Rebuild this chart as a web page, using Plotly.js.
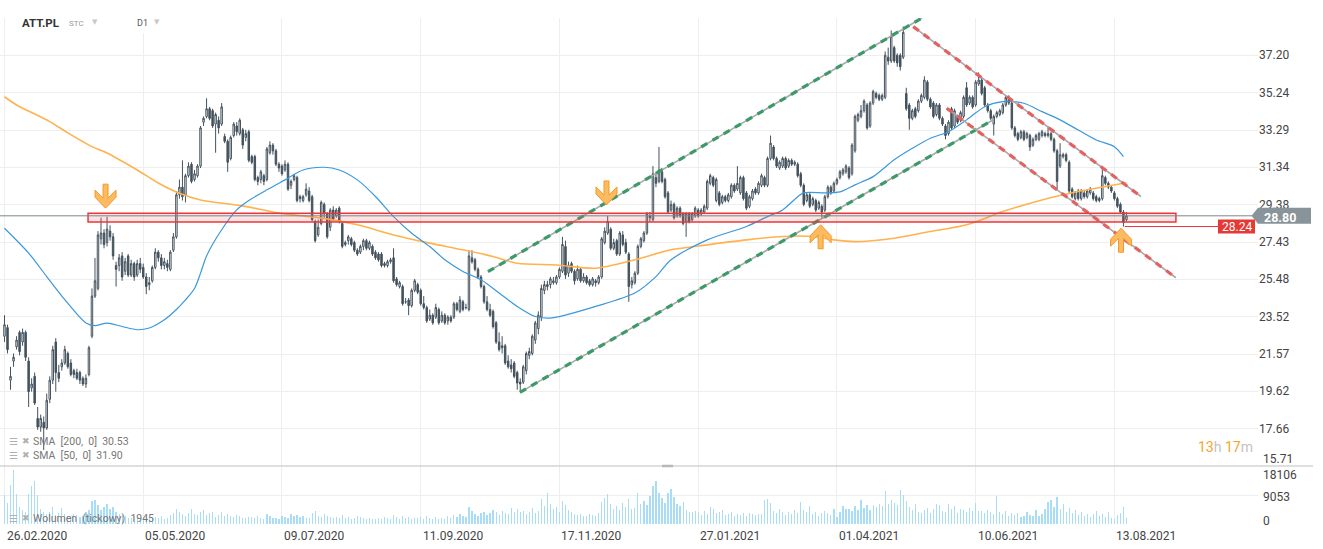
<!DOCTYPE html>
<html><head><meta charset="utf-8">
<script src="https://cdn.plot.ly/plotly-3.0.1.min.js"></script>
<style>html,body{margin:0;padding:0;background:#fff}#chart{width:1323px;height:549px}</style>
</head><body><div id="chart"></div>
<script>
// ---------------- data ----------------
const dateLabels = ["26.02.2020","05.05.2020","09.07.2020","11.09.2020","17.11.2020","27.01.2021","01.04.2021","10.06.2021","13.08.2021"];
const dateLabelIdx = [0,46,92,138,184,230,276,322,368];
const priceTicks = [15.71,17.66,19.62,21.57,23.52,25.48,27.43,29.38,31.34,33.29,35.24,37.20];
const volumeTicks = [0,9053,18106];

const open = [
22.5,22.95,20.2,21.2,21.95,22.7,22.2,22.7,21.2,19.8,
20.4,18.2,17.75,18.0,17.7,19.2,20.2,22.2,20.6,20.9,
21.1,21.6,21.1,20.7,20.6,20.6,20.3,20.0,20.5,22.5,
24.6,25.0,27.6,27.9,27.4,28.0,27.7,26.2,26.2,26.7,
25.9,26.7,25.7,26.3,25.7,26.3,26.1,25.6,25.2,25.4,
26.1,26.9,26.6,26.2,26.3,26.0,27.0,27.7,29.9,30.3,
29.9,30.9,31.5,30.7,30.9,31.4,33.7,34.0,34.4,34.3,
33.6,33.8,33.6,32.95,32.7,31.8,33.0,33.5,33.1,33.3,
32.9,33.2,31.9,31.9,30.8,30.7,30.9,30.7,32.1,32.5,
32.2,31.5,31.4,31.2,31.5,30.4,30.7,30.8,29.8,29.6,
29.9,30.1,29.8,28.5,27.8,28.4,29.4,28.9,28.2,29.1,
28.8,29.2,28.4,27.3,27.5,27.6,27.4,27.0,26.9,27.2,
27.5,27.1,27.2,26.9,26.8,26.8,26.3,26.2,26.4,26.6,
25.5,25.1,25.1,24.3,24.4,24.1,24.9,25.2,24.9,24.2,
24.0,23.4,23.6,23.5,23.9,23.3,23.6,23.3,23.5,23.5,
24.2,23.8,24.3,24.0,23.9,26.6,26.5,26.0,25.6,25.1,
24.3,23.9,23.8,23.2,22.2,22.0,22.0,21.2,21.0,21.1,
20.6,20.1,20.1,20.7,21.5,21.6,22.3,22.9,23.5,24.9,
25.2,25.2,25.3,25.3,25.6,25.9,27.2,25.8,26.3,25.9,
25.5,26.0,25.4,25.6,25.4,25.2,25.4,25.3,25.6,27.4,
27.9,28.1,27.1,27.5,26.8,27.8,27.4,26.8,25.2,25.3,
25.8,27.2,27.5,27.9,28.8,28.6,30.8,30.6,31.1,30.7,
30.0,29.1,29.4,28.8,29.2,28.9,28.5,28.9,28.6,28.8,
29.1,28.9,29.0,29.2,30.5,30.8,29.6,30.0,29.5,29.8,
29.6,29.8,30.4,30.2,30.0,30.8,30.0,29.3,29.7,30.2,
30.0,30.4,30.8,30.4,31.8,32.4,31.8,31.3,31.4,31.8,
31.4,31.7,31.5,31.5,31.0,30.4,29.6,29.9,29.4,29.6,
29.2,29.3,29.1,29.8,30.3,30.1,30.5,30.8,31.0,31.1,
31.3,31.0,32.2,33.8,34.0,34.3,34.6,33.5,34.7,35.2,
35.1,34.9,35.0,37.1,36.9,37.6,37.2,37.2,37.1,35.2,
34.6,33.9,34.4,34.3,34.8,35.0,35.8,34.9,34.7,34.1,
34.6,33.9,33.5,33.1,34.4,33.5,34.0,33.8,34.0,35.5,
34.7,35.0,34.6,35.7,35.9,35.5,34.6,34.3,33.6,34.0,
34.1,34.2,34.6,34.9,34.7,33.4,33.1,32.9,33.2,32.9,
33.0,32.5,32.8,32.8,33.0,33.1,33.0,33.1,32.8,32.2,
31.4,31.9,32.0,31.6,30.2,29.7,30.1,29.7,30.0,29.8,
30.0,30.0,29.8,29.7,29.7,30.8,30.5,30.3,30.0,29.7,
29.4,29.0,28.6];
const high = [
23.6,23.1,20.9,21.6,22.5,22.8,22.9,22.8,21.4,20.3,
20.6,18.8,18.4,18.3,19.5,20.4,22.0,22.4,21.0,21.3,
22.0,21.7,21.3,20.8,20.8,20.7,20.4,20.5,22.0,25.0,
26.6,28.0,28.7,28.1,28.75,28.3,27.9,26.4,26.8,26.9,
26.6,26.8,26.5,26.4,26.5,26.6,26.3,25.8,25.6,26.2,
27.1,27.0,26.8,26.6,26.5,27.0,27.9,30.1,30.7,31.7,
31.0,31.6,31.6,31.2,31.5,33.5,34.0,34.95,34.5,34.4,
34.2,34.0,34.7,33.1,32.8,33.0,33.7,33.7,33.9,33.4,
33.3,33.3,32.0,32.0,30.9,31.2,31.0,32.4,32.7,32.6,
32.3,31.6,31.5,31.7,31.6,30.7,31.0,30.9,29.9,29.9,
30.5,30.3,29.9,28.6,28.6,29.6,29.5,29.0,29.2,29.3,
29.2,29.3,28.5,27.5,27.8,27.7,27.5,27.1,27.3,27.6,
27.6,27.5,27.3,27.0,26.9,26.9,26.4,26.5,26.6,27.1,
25.6,25.4,25.2,24.5,24.5,25.0,25.5,25.3,25.0,24.6,
24.1,23.9,23.7,24.2,24.0,23.8,23.7,23.6,23.6,24.3,
24.3,24.6,24.4,24.2,27.0,27.0,26.6,26.1,25.7,25.2,
24.6,24.2,23.9,23.3,22.7,22.5,22.1,21.5,21.3,21.2,
20.7,20.3,21.0,21.7,21.9,22.6,23.3,23.8,25.2,25.4,
25.4,25.6,25.6,25.7,26.1,27.7,27.5,26.4,26.4,26.0,
26.2,26.1,25.8,25.7,25.5,25.6,25.5,25.7,27.7,28.2,
28.8,28.2,27.6,27.6,28.0,28.0,27.6,26.9,25.6,25.9,
27.3,27.7,28.0,29.0,29.0,31.4,31.1,32.4,31.3,30.8,
30.1,29.6,29.5,29.3,29.3,29.0,29.0,29.0,29.0,29.3,
29.2,29.2,29.4,30.7,31.0,30.9,30.8,30.1,29.9,29.9,
30.0,30.5,30.5,31.4,30.9,30.9,30.1,29.9,30.2,30.3,
30.6,31.0,30.9,31.9,33.0,32.5,31.9,31.7,31.9,31.9,
31.8,31.8,31.7,31.6,31.1,30.5,30.0,30.0,29.8,29.7,
29.6,29.4,29.9,30.4,30.4,30.6,30.8,31.2,31.3,31.5,
31.4,32.6,34.1,34.2,34.6,34.9,34.7,34.8,35.4,35.3,
35.2,35.2,37.4,37.6,38.5,37.7,37.3,37.3,38.7,35.5,
34.7,34.4,34.5,34.9,35.2,36.1,35.9,35.0,34.8,34.7,
34.7,34.0,33.6,33.8,34.5,34.4,34.1,34.3,35.1,35.8,
35.1,35.1,35.9,36.3,36.0,35.6,34.7,34.4,34.1,34.3,
34.4,34.7,35.1,35.1,34.8,33.5,33.2,33.3,33.3,33.2,
33.1,32.9,33.1,33.2,33.3,33.2,33.5,33.2,32.9,32.3,
32.6,32.1,32.1,31.7,30.3,30.1,30.2,30.2,30.1,30.2,
30.3,30.1,29.9,29.8,31.4,30.9,30.6,30.4,30.1,29.8,
29.5,29.1,29.0];
const low = [
22.2,21.6,19.7,20.9,21.8,21.5,22.0,21.2,18.8,19.6,
18.9,17.6,17.5,16.55,17.6,19.0,20.0,19.6,20.1,20.7,
21.0,20.8,20.4,20.3,20.2,20.0,19.9,19.8,20.4,22.4,
24.5,24.9,27.3,27.1,27.2,27.5,26.5,25.1,25.9,25.4,
25.7,25.6,25.6,25.4,25.6,25.8,25.5,24.7,24.9,25.3,
26.0,26.4,26.0,26.0,25.9,25.9,26.9,27.6,29.7,29.6,
29.5,30.8,30.5,30.6,30.8,31.3,33.5,33.9,33.8,33.4,
32.1,33.1,33.5,32.6,31.1,31.7,32.9,33.0,33.0,32.3,
32.7,31.6,31.5,30.6,30.4,30.5,30.4,30.6,32.0,32.0,
31.4,31.1,30.9,31.1,30.1,30.2,30.6,29.5,29.5,29.5,
29.8,29.5,28.5,27.4,27.7,28.3,28.7,27.6,28.0,28.5,
28.7,28.4,27.1,27.2,27.3,27.2,26.9,26.7,26.8,27.0,
27.0,27.0,26.7,26.5,26.4,26.1,26.1,26.1,26.3,25.3,
25.1,25.0,24.1,24.2,23.6,24.0,24.8,24.7,24.1,23.9,
23.2,23.3,23.1,23.4,23.1,23.2,23.1,23.1,23.2,23.4,
23.8,23.7,23.8,23.9,23.8,26.3,25.9,25.5,25.0,24.2,
23.8,23.5,22.9,22.1,21.7,21.6,21.0,20.8,20.6,20.3,
19.7,19.6,20.0,20.5,21.3,21.5,22.1,22.6,23.3,24.7,
24.9,25.0,25.2,25.2,25.5,25.8,25.5,25.6,25.8,25.2,
25.4,25.3,25.3,25.2,25.1,25.1,25.1,25.2,25.5,27.3,
27.8,27.0,27.0,26.7,26.7,27.2,26.8,24.3,25.0,25.2,
25.7,27.1,27.4,27.8,28.5,28.5,30.3,30.5,30.5,29.7,
28.9,29.0,28.6,28.7,28.7,28.3,27.7,28.4,28.5,28.7,
28.7,28.8,28.9,29.1,30.4,30.3,29.5,29.3,29.4,29.5,
29.5,29.7,30.0,30.1,29.9,29.6,29.1,29.2,29.6,29.9,
29.9,30.3,30.3,30.3,31.7,31.7,31.3,31.2,31.3,31.2,
31.3,31.4,31.4,30.8,30.3,29.3,29.5,29.2,29.3,29.0,
29.1,28.7,29.0,29.7,29.9,30.0,30.4,30.7,30.9,31.0,
30.7,30.9,32.1,33.7,33.9,34.2,33.3,33.4,34.6,34.9,
34.8,34.8,34.9,36.7,36.8,36.8,36.6,36.4,37.0,34.3,
33.3,33.8,33.9,34.2,34.7,34.9,34.8,34.4,33.9,34.0,
33.8,33.5,32.8,33.0,33.3,33.4,33.6,33.7,33.9,34.5,
34.6,34.4,34.5,35.6,35.1,34.5,34.2,33.8,33.0,33.9,
34.0,34.1,34.5,34.6,33.3,32.9,32.7,32.8,32.7,32.8,
32.2,32.4,32.7,32.7,32.9,32.9,32.9,32.7,32.1,30.1,
31.3,31.8,31.6,30.0,29.7,29.6,29.6,29.6,29.7,29.7,
29.9,29.6,29.5,29.5,29.6,30.4,30.2,30.0,29.6,29.2,
28.9,28.24,28.5];
const close = [
23.1,21.8,20.4,21.4,22.3,21.7,22.7,21.4,19.6,20.0,
19.0,17.75,18.2,17.7,19.15,20.2,21.8,20.6,20.3,21.1,
21.8,20.9,20.5,20.5,20.3,20.2,20.0,20.3,21.9,24.6,
25.4,27.8,27.9,27.3,28.1,27.7,26.7,26.0,26.6,25.6,
26.4,25.7,26.3,25.6,26.3,26.0,25.6,25.1,25.3,26.1,
26.9,26.6,26.2,26.4,26.1,26.9,27.7,29.9,30.3,29.8,
30.9,31.4,30.6,31.0,31.4,33.4,33.9,34.4,33.9,33.5,
34.1,33.4,34.5,32.7,31.6,32.9,33.6,33.2,33.8,32.5,
33.1,31.7,31.6,30.7,30.6,31.1,30.6,32.3,32.5,32.2,
31.5,31.3,31.0,31.5,30.2,30.6,30.9,29.6,29.7,29.8,
30.2,29.6,28.6,27.5,28.2,29.5,28.9,27.7,29.1,28.6,
29.1,28.5,27.2,27.4,27.7,27.3,27.0,26.8,27.2,27.5,
27.1,27.4,26.8,26.6,26.5,26.2,26.2,26.4,26.5,25.4,
25.2,25.3,24.2,24.3,24.1,24.9,25.4,24.8,24.2,24.0,
23.3,23.6,23.2,24.0,23.2,23.6,23.2,23.5,23.3,24.2,
23.9,24.4,23.9,24.0,26.7,26.4,26.0,25.6,25.1,24.3,
23.9,23.6,23.0,22.2,21.8,21.9,21.1,20.9,20.8,20.4,
20.05,20.0,20.9,21.6,21.7,22.5,23.2,23.6,25.0,25.2,
25.1,25.5,25.4,25.6,26.0,27.3,25.7,26.2,25.9,25.4,
26.0,25.4,25.6,25.3,25.2,25.5,25.3,25.6,27.6,28.0,
28.5,27.1,27.4,26.8,27.9,27.3,26.9,25.1,25.4,25.8,
27.2,27.6,27.9,28.9,28.7,31.0,30.5,31.2,30.6,29.8,
29.0,29.4,28.7,29.2,28.8,28.4,28.9,28.5,28.9,29.2,
28.8,29.1,29.3,30.6,30.9,30.4,30.7,29.4,29.8,29.6,
29.9,30.4,30.1,30.5,30.8,29.7,29.2,29.8,30.1,30.0,
30.5,30.9,30.4,31.8,32.6,31.8,31.4,31.6,31.8,31.3,
31.7,31.5,31.6,30.9,30.4,29.4,29.9,29.3,29.7,29.1,
29.5,29.0,29.8,30.3,30.0,30.5,30.7,31.1,31.2,31.4,
30.8,32.5,34.0,34.1,34.3,34.8,33.4,34.7,35.3,35.0,
34.9,35.1,37.2,36.9,38.2,36.9,36.8,36.6,38.4,34.4,
33.9,34.3,34.0,34.8,35.1,35.9,34.9,34.5,34.0,34.6,
33.9,33.6,33.0,33.7,33.4,34.3,33.7,34.2,35.0,34.6,
35.0,34.5,35.8,35.9,35.2,34.6,34.3,33.9,34.0,34.2,
34.3,34.6,35.0,34.7,33.4,33.0,32.8,33.2,32.8,33.1,
32.4,32.8,33.0,33.1,33.2,33.0,33.1,32.8,32.2,30.6,
32.0,32.0,31.7,30.1,29.8,30.0,29.7,30.1,29.8,30.1,
30.2,29.7,29.6,29.6,30.9,30.5,30.3,30.1,29.7,29.3,
29.0,28.45,28.8];
const volume = [
9100,6500,12300,17000,9500,5200,4300,3800,9400,12000,
13300,9100,4800,3600,3200,3900,5300,2800,3300,5000,
3100,2600,2400,3000,2700,2200,2500,3600,4400,7100,
7600,5800,4300,5200,6200,4800,5400,3600,3100,2700,
2400,2000,1900,2500,2000,1800,2200,2600,1700,1900,
2100,1800,2400,1600,2000,2800,3300,4600,3900,3200,
2600,3400,4600,3000,2800,3900,4400,2700,3300,3600,
2300,2900,3800,2600,3000,2400,2100,2800,2500,2000,
1900,2300,2200,1800,2600,1900,1700,3000,2400,1800,
2000,1700,2600,2200,1900,3100,2500,2900,2200,2400,
2000,1800,3300,4000,2600,2300,3100,2500,2100,1900,
2300,2000,2700,1800,2200,1700,1900,2400,2100,1800,
1600,2000,1700,1500,1900,1600,2100,1800,1500,2800,
2100,1700,2500,1900,2200,1600,2000,1800,2300,1700,
2600,1900,1700,2200,1500,1800,1600,2400,2000,2700,
2200,3000,2400,2100,5200,4100,3000,2600,3400,3900,
2800,3300,4400,3600,2900,4100,3400,3000,5100,3700,
4600,3800,4200,3100,3600,4900,3400,4100,7800,5500,
9700,6100,4700,5300,3900,7200,5800,4300,3600,3100,
2700,3200,2600,2400,3000,2900,2600,3400,6900,8100,
9400,6200,4800,5600,4400,6600,5200,7800,4600,5100,
9800,6400,7100,5900,8600,11800,13400,9600,8200,6700,
9700,11000,8400,6100,5600,7000,4300,3900,3600,4100,
3700,2900,4100,3200,5400,4800,3300,3800,4400,2700,
3100,3700,2600,3000,2900,3500,2500,3400,3100,2800,
3200,3000,7600,7700,6700,4000,3300,4700,3600,2900,
3700,3200,4300,3300,6900,4500,3700,5600,3100,3800,
2600,3300,4100,3500,2800,4600,2300,3700,5500,4600,
4600,4100,5600,4300,7400,4900,6000,4500,5800,5300,
6300,5500,10400,6100,7400,6600,5800,10700,8900,7300,
5400,4500,6200,3700,3500,4400,5100,3400,4800,6300,
5900,4200,3900,6100,4800,5500,3500,4700,4400,3600,
5100,4100,6600,4000,4200,3400,4300,3700,3100,8600,
3800,3200,4000,2500,3300,2700,3500,2300,2600,3700,
2700,2400,4400,2600,3100,4600,6900,7600,5400,8300,
4800,6400,3600,5000,3400,4300,2700,3600,2400,3000,
2300,3000,4100,2600,3200,2100,3900,1800,1600,2700,
3500,5200,1945];

const sma200Idx = [0,4,15,21,29,34,44,51,58,65,79,91,105,117,129,141,152,162,170,183,196,209,221,233,246,258,268,275,282,295,307,319,331,344,356,365,372];
const sma200Val = [35.03,34.6,33.73,33.14,32.42,32.09,31.2,30.52,29.98,29.63,29.32,28.94,28.68,28.33,27.8,27.37,27.02,26.67,26.32,26.23,26.06,26.5,27.02,27.28,27.54,27.72,27.72,27.54,27.45,27.63,27.98,28.33,29.02,29.63,30.07,30.33,30.53];
const sma50Idx = [0,8,14,20,27,30,34,39,44,48,53,57,60,63,65,67,72,77,81,87,93,99,106,111,117,123,129,135,141,146,152,158,164,170,176,181,184,196,209,216,221,233,246,253,258,263,265,272,277,282,288,295,301,307,313,319,325,331,338,344,350,356,362,368,371];
const sma50Val = [28.15,26.85,25.62,24.41,23.19,23.05,23.19,23.01,22.84,22.93,23.36,23.9,24.4,25.0,25.8,26.7,28.07,29.11,29.6,30.16,30.68,31.2,31.34,31.2,30.68,29.81,28.76,27.89,27.19,26.5,25.89,25.45,24.76,24.06,23.53,23.45,23.53,24.06,24.76,25.62,26.5,27.54,28.24,28.76,29.11,29.8,30.0,30.0,30.05,30.42,30.85,31.73,32.33,32.86,33.2,33.82,34.51,34.77,34.69,34.25,33.82,33.29,32.77,32.42,31.9];

const greenUpX = [160.3, 304.2], greenUpY = [25.88, 39.15];
const greenLoX = [170.9, 327.6], greenLoY = [19.56, 33.80];
const redUpX = [301.3, 376.8], redUpY = [38.70, 29.81];
const redLoX = [312.4, 388.4], redLoY = [34.43, 25.56];
const zoneX = [27.7, 388.4], zoneY = [28.47, 28.94];
const arrowIdx = [33.5, 199.6, 270.6, 370.2];
const arrowPrice = [29.2, 29.37, 28.33, 28.15];
const arrowDir = [-1, -1, 1, 1];
const lastPrice = 28.80, lowLevel = 28.24;
const sma200Last = "30.53", sma50Last = "31.90", lastVolume = "1945";
const symbol = "ATT.PL";

// ---------------- layout helpers ----------------
const FONT = "Roboto, 'Open Sans', Arial, sans-serif";
const plotR = 1258, plotT = 18, plotB = 524, sepY = 466;
const barPx = 3.016, firstPx = 4.5;
const xRange = [-firstPx / barPx, (plotR - firstPx) / barPx];
const px = x => x / plotR;
const py = y => (plotB - y) / (plotB - plotT);
const sepFrac = py(sepY);
const idx = close.map((_, i) => i);

const traces = [];
traces.push({
  type: 'candlestick', x: idx, open: open, high: high, low: low, close: close,
  xaxis: 'x', yaxis: 'y', whiskerwidth: 0, hoverinfo: 'skip', showlegend: false,
  increasing: {line: {color: '#44525d', width: 1}, fillcolor: '#ffffff'},
  decreasing: {line: {color: '#44525d', width: 1}, fillcolor: '#44525d'}
});
traces.push({type: 'scatter', mode: 'lines', x: sma200Idx, y: sma200Val, xaxis: 'x', yaxis: 'y',
  line: {color: '#ffb24d', width: 1.6, shape: 'spline', smoothing: 0.8}, hoverinfo: 'skip', showlegend: false});
traces.push({type: 'scatter', mode: 'lines', x: sma50Idx, y: sma50Val, xaxis: 'x', yaxis: 'y',
  line: {color: '#3a98dc', width: 1.2, shape: 'spline', smoothing: 0.8}, hoverinfo: 'skip', showlegend: false});
function trend(xs, ys, col) {
  traces.push({type: 'scatter', mode: 'lines', x: xs, y: ys, xaxis: 'x', yaxis: 'y',
    line: {color: '#a8a8a8', width: 1.6}, hoverinfo: 'skip', showlegend: false});
  traces.push({type: 'scatter', mode: 'lines', x: xs, y: ys, xaxis: 'x', yaxis: 'y',
    line: {color: col, width: 3.2, dash: '7px,6px'}, hoverinfo: 'skip', showlegend: false});
}
trend(greenUpX, greenUpY, '#3c9a68');
trend(greenLoX, greenLoY, '#3c9a68');
trend(redUpX, redUpY, '#e36161');
trend(redLoX, redLoY, '#e36161');
traces.push({type: 'bar', x: idx, y: volume, xaxis: 'x', yaxis: 'y2', width: 0.4,
  marker: {color: '#a9dcf6', line: {width: 0}}, hoverinfo: 'skip', showlegend: false});

const shapes = [];
shapes.push({type: 'rect', xref: 'x', yref: 'y', x0: zoneX[0], x1: zoneX[1], y0: zoneY[0], y1: zoneY[1],
  fillcolor: 'rgba(240,90,90,0.16)', line: {color: '#e8383d', width: 1.5}, layer: 'above'});
shapes.push({type: 'line', xref: 'paper', yref: 'y', x0: 0, x1: 1 - 6 / plotR, y0: lastPrice, y1: lastPrice,
  line: {color: '#7b858b', width: 1}, layer: 'above'});
shapes.push({type: 'line', xref: 'x', yref: 'y', x0: close.length - 1.6, x1: xRange[1] - 40 / barPx, y0: lowLevel, y1: lowLevel,
  line: {color: '#e8383d', width: 1}, layer: 'above'});
arrowIdx.forEach((xi, k) => {
  const d = arrowDir[k];
  const pts = [[-2.5,24],[2.5,24],[2.5,10],[10.5,18],[10.5,11],[0,0],[-10.5,11],[-10.5,18],[-2.5,10]];
  const path = 'M ' + pts.map(p => p[0] + ',' + (p[1] * (d > 0 ? -1 : 1))).join(' L ') + ' Z';
  shapes.push({type: 'path', xref: 'x', yref: 'y', xsizemode: 'pixel', ysizemode: 'pixel',
    xanchor: xi, yanchor: arrowPrice[k], path: path,
    fillcolor: '#fcbb62', line: {color: '#f39a22', width: 1}, layer: 'above'});
});
shapes.push({type: 'path', xref: 'paper', yref: 'y', xsizemode: 'pixel', ysizemode: 'pixel', xanchor: 1, yanchor: lastPrice,
  path: 'M -6.5,0 L 0,8 L 53,8 L 53,-8 L 0,-8 Z', fillcolor: '#89939a', line: {width: 0}, layer: 'above'});
shapes.push({type: 'path', xref: 'paper', yref: 'y', xsizemode: 'pixel', ysizemode: 'pixel', xanchor: 1, yanchor: lowLevel,
  path: 'M -40,7 L -3,7 L -3,-7 L -40,-7 Z', fillcolor: '#e53935', line: {width: 0}, layer: 'above'});
shapes.push({type: 'line', xref: 'paper', yref: 'paper', x0: 0, x1: px(1313), y0: sepFrac, y1: sepFrac,
  line: {color: '#d4d4d4', width: 1.5}, layer: 'above'});
shapes.push({type: 'line', xref: 'paper', yref: 'paper', x0: px(662), x1: px(673), y0: sepFrac, y1: sepFrac,
  line: {color: '#b8b8b8', width: 2.5}, layer: 'above'});
shapes.push({type: 'rect', xref: 'paper', yref: 'paper', x0: px(14), x1: px(172), y0: py(33), y1: py(15),
  fillcolor: '#ffffff', line: {width: 0}, layer: 'above'});

const ann = [];
function txt(text, x, y, opts) {
  ann.push(Object.assign({text: text, xref: 'paper', yref: 'paper', x: px(x), y: py(y), showarrow: false,
    xanchor: 'left', yanchor: 'middle', font: {family: FONT, size: 12, color: '#444'}}, opts || {}));
}
txt('<b>' + symbol + '</b>', 20, 23, {font: {family: FONT, size: 11.5, color: '#333'}});
txt('STC', 67, 23, {font: {family: FONT, size: 8, color: '#999'}});
txt('▼', 90, 22, {font: {family: 'DejaVu Sans', size: 7, color: '#c8c8c8'}});
txt('D1', 135, 23, {font: {family: FONT, size: 9, color: '#555'}});
txt('▼', 152, 22, {font: {family: 'DejaVu Sans', size: 7, color: '#c8c8c8'}});
dateLabels.forEach((d, k) => {
  ann.push({text: d, xref: 'x', yref: 'paper', x: dateLabelIdx[k], y: py(536), xanchor: 'left', yanchor: 'middle',
    showarrow: false, font: {family: FONT, size: 12, color: '#444'}});
});
txt(priceTicks[0].toFixed(2), 1261, 459);
txt(String(volumeTicks[2]), 1261, 475);
txt(String(volumeTicks[1]), 1261, 497);
txt(String(volumeTicks[0]), 1261, 521);
const legendRows = [['SMA  [200,  0]  ' + sma200Last, 441], ['SMA  [50,  0]  ' + sma50Last, 455], ['Wolumen  (tickowy)  ' + lastVolume, 518]];
legendRows.forEach(r => {
  txt('☰', 7, r[1], {font: {family: 'DejaVu Sans', size: 10, color: '#b0b0b0'}});
  txt('✖', 20, r[1], {font: {family: 'DejaVu Sans', size: 9, color: '#b0b0b0'}});
  txt(r[0], 31, r[1], {font: {family: FONT, size: 10.5, color: '#777'}});
});
txt('<span style="color:#f5a42a">13</span><span style="color:#c3c3c3">h </span><span style="color:#f5a42a">17</span><span style="color:#c3c3c3">m</span>',
  1255, 447, {xanchor: 'right', font: {family: FONT, size: 14, color: '#f5a42a'}});
ann.push({text: '<b>' + lastPrice.toFixed(2) + '</b>', xref: 'paper', yref: 'y', x: 1, y: lastPrice, xanchor: 'left', yanchor: 'middle',
  xshift: 4, yshift: -1.5, showarrow: false, font: {family: FONT, size: 12.5, color: '#ffffff'}});
ann.push({text: lowLevel.toFixed(2), xref: 'paper', yref: 'y', x: 1, y: lowLevel, xanchor: 'center', yanchor: 'middle',
  xshift: -21.5, showarrow: false, font: {family: FONT, size: 12, color: '#ffffff'}});

const layout = {
  width: 1323, height: 549,
  margin: {l: 0, r: 1323 - plotR, t: plotT, b: 549 - plotB, pad: 0},
  paper_bgcolor: '#ffffff', plot_bgcolor: '#ffffff',
  showlegend: false, bargap: 0,
  font: {family: FONT, size: 12, color: '#444'},
  xaxis: {type: 'linear', range: xRange, anchor: 'y2', tickvals: dateLabelIdx, showticklabels: false,
    showgrid: true, gridcolor: '#eeeeee', gridwidth: 1, zeroline: false, showline: false, ticks: '',
    rangeslider: {visible: false}, fixedrange: true},
  yaxis: {domain: [sepFrac, 1], range: [15.71, 39.15], side: 'right', anchor: 'x',
    tickvals: priceTicks.slice(1), ticktext: priceTicks.slice(1).map(v => v.toFixed(2)),
    showgrid: true, gridcolor: '#eeeeee', gridwidth: 1, zeroline: false, showline: false, ticks: '',
    tickfont: {family: FONT, size: 12, color: '#444'}, fixedrange: true},
  yaxis2: {domain: [0, sepFrac], range: [0, 18106], side: 'right', anchor: 'x',
    tickvals: [volumeTicks[1]], showticklabels: false,
    showgrid: true, gridcolor: '#eeeeee', zeroline: false, showline: false, ticks: '', fixedrange: true},
  shapes: shapes, annotations: ann
};
Plotly.newPlot('chart', traces, layout, {staticPlot: true, displayModeBar: false});
</script>
</body></html>
